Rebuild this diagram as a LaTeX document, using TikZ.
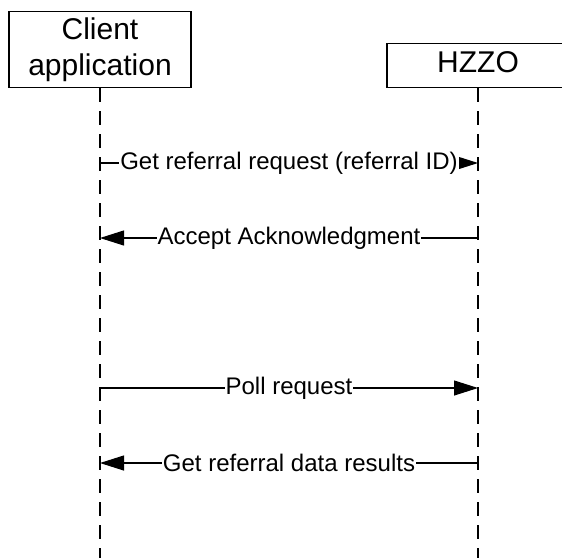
\documentclass[tikz,border=0pt]{standalone}
\usepackage{fontspec}
\setmainfont{Liberation Sans}
\usetikzlibrary{arrows.meta,positioning}

\begin{document}
\begin{tikzpicture}[x=1pt, y=-1pt, >={Triangle[length=24pt,width=15pt]},
    lane/.style={draw, line width=1.1pt, minimum width=182pt, inner sep=0pt,
      align=center, font=\fontsize{30}{36}\selectfont},
    life/.style={line width=1.1pt, dash pattern=on 14pt off 9pt},
    msg/.style={->, line width=1.1pt},
    lbl/.style={fill=white, inner xsep=1pt, inner ysep=2pt, font=\fontsize{24}{28}\selectfont}]
  \useasboundingbox (0,0) rectangle (562,558);

  \node[lane, anchor=south, minimum height=76pt] (client) at (100,88) {Client\\application};
  \node[lane, anchor=south, minimum height=44pt, text depth=6pt] (hzzo) at (478,88) {HZZO};

  % lifelines
  \coordinate (cEnd) at (100,558);
  \coordinate (hEnd) at (478,558);
  \draw[life] (client.south) -- (cEnd);
  \draw[life] (hzzo.south) -- (hEnd);

  % messages
  \coordinate (c1) at (100,163); \coordinate (h1) at (478,163);
  \coordinate (c2) at (100,238); \coordinate (h2) at (478,238);
  \coordinate (c3) at (100,388); \coordinate (h3) at (478,388);
  \coordinate (c4) at (100,463); \coordinate (h4) at (478,463);

  \draw[msg] (c1) -- node[lbl] {Get referral request (referral ID)} (h1);
  \draw[msg] (h2) -- node[lbl] {Accept Acknowledgment} (c2);
  \draw[msg] (c3) -- node[lbl] {Poll request} (h3);
  \draw[msg] (h4) -- node[lbl] {Get referral data results} (c4);
\end{tikzpicture}
\end{document}
